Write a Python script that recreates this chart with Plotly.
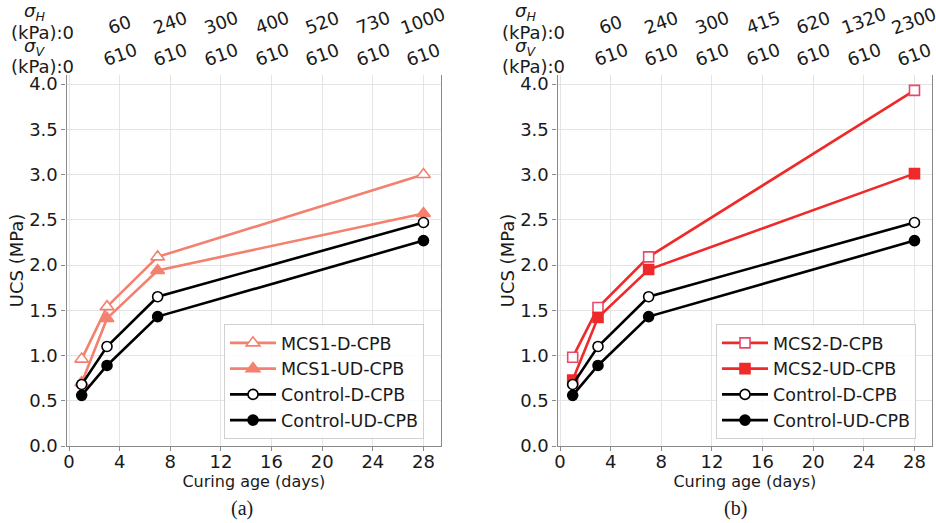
import plotly.graph_objects as go

# ---------------- data ----------------
ages = [1, 3, 7, 28]
control_d = [0.68, 1.10, 1.65, 2.47]
control_ud = [0.56, 0.89, 1.43, 2.27]
mcs1_d = [0.96, 1.54, 2.09, 3.00]
mcs1_ud = [0.70, 1.41, 1.94, 2.57]
mcs2_d = [0.98, 1.53, 2.09, 3.93]
mcs2_ud = [0.73, 1.42, 1.95, 3.01]

x_ticks = [0, 4, 8, 12, 16, 20, 24, 28]
sigma_v_labels = ["0", "610", "610", "610", "610", "610", "610", "610"]
sigma_h_labels_a = ["0", "60", "240", "300", "400", "520", "730", "1000"]
sigma_h_labels_b = ["0", "60", "240", "300", "415", "620", "1320", "2300"]
y_ticks = [0.0, 0.5, 1.0, 1.5, 2.0, 2.5, 3.0, 3.5, 4.0]

# ---------------- style ----------------
W, H = 936, 523
FONT = "DejaVu Sans"
SALMON = "#F4806F"
RED = "#EE2A2A"
RED_EDGE = "#E8486A"
BLACK = "#000000"
SPINE = "#8a8a8a"
GRID = "#e4e4e4"
TICKF = 18
TXT = "#1a1a1a"

def py(px):
    return 1 - px / H

dom_a = [66.5 / W, 441.2 / W]
dom_b = [557.5 / W, 932.2 / W]
dom_y = [py(446), py(75)]
xr = [-0.2, 29.4]
yr = [0, 4.1]

fig = go.Figure()

def add_series(xa, ya, legend, name, yvals, color, symbol, size, fill, edge, lw=2.6):
    fig.add_trace(go.Scatter(
        x=ages, y=yvals, name=name, mode="lines+markers",
        xaxis=xa, yaxis=ya, legend=legend,
        line=dict(color=color, width=lw),
        marker=dict(symbol=symbol, size=size, color=fill,
                    line=dict(color=edge, width=1.6)),
    ))

# panel (a)
add_series("x", "y", "legend", "MCS1-D-CPB", mcs1_d, SALMON, "triangle-up", 12, "white", SALMON)
add_series("x", "y", "legend", "MCS1-UD-CPB", mcs1_ud, SALMON, "triangle-up", 12, SALMON, SALMON)
add_series("x", "y", "legend", "Control-D-CPB", control_d, BLACK, "circle", 10, "white", BLACK)
add_series("x", "y", "legend", "Control-UD-CPB", control_ud, BLACK, "circle", 10, BLACK, BLACK)
# panel (b)
add_series("x2", "y2", "legend2", "MCS2-D-CPB", mcs2_d, RED, "square", 10, "white", RED_EDGE)
add_series("x2", "y2", "legend2", "MCS2-UD-CPB", mcs2_ud, RED, "square", 10, RED, RED)
add_series("x2", "y2", "legend2", "Control-D-CPB", control_d, BLACK, "circle", 10, "white", BLACK)
add_series("x2", "y2", "legend2", "Control-UD-CPB", control_ud, BLACK, "circle", 10, BLACK, BLACK)

def bottom_x(domain, anchor):
    return dict(domain=domain, anchor=anchor, range=xr, tickvals=x_ticks,
                ticks="outside", ticklen=4, tickcolor=SPINE, showline=True,
                linecolor=SPINE, linewidth=1.2, showgrid=True, gridcolor=GRID,
                zeroline=False, automargin=False, ticklabelstandoff=-5,
                tickfont=dict(family=FONT, size=TICKF, color=TXT),
                title=dict(text="Curing age (days)", standoff=2,
                           font=dict(family=FONT, size=16, color=TXT)))

def left_y(domain, anchor):
    return dict(domain=domain, anchor=anchor, range=yr, tickvals=y_ticks,
                tickformat=".1f", ticks="outside", ticklen=4, tickcolor=SPINE,
                showline=True, mirror=True, linecolor=SPINE, linewidth=1.2,
                showgrid=True, gridcolor=GRID, zeroline=False, automargin=False,
                tickfont=dict(family=FONT, size=TICKF, color=TXT),
                title=dict(text="UCS (MPa)", standoff=0,
                           font=dict(family=FONT, size=18, color=TXT)))

def top_axis(domain, over, anchor, position=None, ticks="outside"):
    d = dict(domain=domain, overlaying=over, side="top", range=xr, tickvals=x_ticks,
             ticks=ticks, ticklen=4, tickcolor=SPINE, showline=True,
             linecolor=SPINE, linewidth=1.2, showgrid=False, zeroline=False,
             showticklabels=False, automargin=False)
    if position is None:
        d["anchor"] = anchor
    else:
        d["anchor"] = "free"
        d["position"] = position
    return d

legend_common = dict(xanchor="left", yanchor="top",
                     bgcolor="rgba(255,255,255,0.85)", bordercolor="#d0d0d0", borderwidth=1,
                     font=dict(family=FONT, size=17.5, color=TXT), itemwidth=46,
                     tracegroupgap=0)

fig.update_layout(
    width=W, height=H, margin=dict(l=0, r=0, t=0, b=0),
    paper_bgcolor="white", plot_bgcolor="white",
    font=dict(family=FONT, color=TXT),
    xaxis=bottom_x(dom_a, "y"),
    yaxis=left_y(dom_y, "x"),
    xaxis2=bottom_x(dom_b, "y2"),
    yaxis2=left_y(dom_y, "x2"),
    xaxis3=top_axis(dom_a, "x", "y"),
    xaxis4=top_axis(dom_b, "x2", "y2"),
    xaxis5=top_axis(dom_a, "x", None, position=py(40), ticks="inside"),
    xaxis6=top_axis(dom_b, "x2", None, position=py(40), ticks="inside"),
    legend=dict(x=224 / W, y=py(324), **legend_common),
    legend2=dict(x=716 / W, y=py(324), **legend_common),
)

ann = []
def top_labels(xref, h_labels):
    rows = [(h_labels, 41, 32, 12, "<i>σ</i><sub><i>H</i></sub>"),
            (sigma_v_labels, 73, 67, 47, "<i>σ</i><sub><i>V</i></sub>")]
    for labels, ybot, ykpa, ysig, sig in rows:
        for i, (tv, lab) in enumerate(zip(x_ticks, labels)):
            if i == 0:
                ann.append(dict(x=tv, xref=xref, y=py(ykpa), yref="paper",
                                text="(kPa):" + lab, showarrow=False,
                                xanchor="right", yanchor="middle", xshift=7,
                                font=dict(family=FONT, size=TICKF, color=TXT)))
                ann.append(dict(x=tv, xref=xref, y=py(ysig), yref="paper",
                                text=sig, showarrow=False,
                                xanchor="center", yanchor="middle", xshift=-35,
                                font=dict(family=FONT, size=TICKF, color=TXT)))
            else:
                ann.append(dict(x=tv, xref=xref, y=py(ybot), yref="paper",
                                text=lab, showarrow=False, textangle=-20,
                                xanchor="center", yanchor="bottom",
                                font=dict(family=FONT, size=TICKF, color=TXT)))

top_labels("x", sigma_h_labels_a)
top_labels("x2", sigma_h_labels_b)

for cx, t in [(242, "(a)"), (735, "(b)")]:
    ann.append(dict(x=cx / W, y=py(508), xref="paper", yref="paper", text=t,
                    showarrow=False, xanchor="center", yanchor="middle",
                    font=dict(family="Liberation Serif", size=20, color=TXT)))

fig.update_layout(annotations=ann)
fig.write_html("out.html", config={"displayModeBar": False},
               post_script="document.body.style.margin='0';document.body.style.overflow='hidden';")
